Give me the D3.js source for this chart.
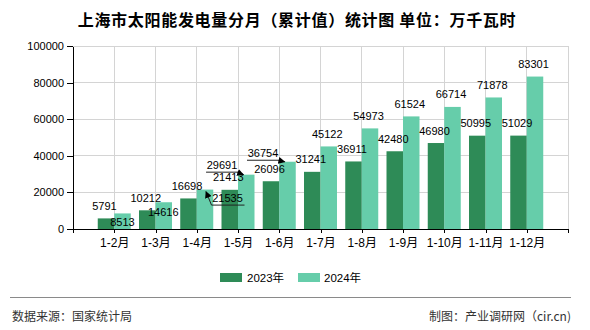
<!DOCTYPE html>
<html><head><meta charset="utf-8">
<script src="https://cdn.jsdelivr.net/npm/d3@7"></script>
<style>
body{margin:0;background:#fff;}
svg{display:block;}
text{font-family:"Liberation Sans","Noto Sans CJK SC",sans-serif;}
</style></head>
<body><svg id="c" width="590" height="330"></svg>
<script>
const categories = ["1-2月","1-3月","1-4月","1-5月","1-6月","1-7月","1-8月","1-9月","1-10月","1-11月","1-12月"];
const seriesNames = ["2023年","2024年"];
const values2023 = [5791,10212,16698,21413,26096,31241,36911,42480,46980,50995,51029];
const values2024 = [8513,14616,21535,29691,36754,45122,54973,61524,66714,71878,83301];
const yTicks = [0,20000,40000,60000,80000,100000];
const colors = ["#2e8b57","#66cdaa"];
// label displacement (collision-avoidance) for some data labels: [series, index, dx, dy, leader]
const labelShifts = [[1,0,1.5,21,null],[1,1,1,22,null],[1,2,24,21,"left"],[1,3,-22.7,3,"right"],[1,4,-23,4,"right"]];

const svg = d3.select("#c");
const L=73, R=568, T=46, B=229;
const x = d3.scalePoint().domain(categories).range([L,R]).padding(1);
const y = d3.scaleLinear().domain([0,100000]).range([B,T]);
const bw = x.step()*0.4;

// title
svg.append("text").attr("x",297).attr("y",26).attr("text-anchor","middle")
  .style("font-family","'Noto Sans CJK SC',sans-serif").style("font-size","16px").style("font-weight","bold")
  .style("letter-spacing","0.7px").attr("fill","#000")
  .text("上海市太阳能发电量分月（累计值）统计图 单位：万千瓦时");

// grid
const g = svg.append("g");
g.selectAll("line.h").data(yTicks.filter(d=>d>0)).join("line")
  .attr("x1",L).attr("x2",R).attr("y1",d=>y(d)).attr("y2",d=>y(d))
  .attr("stroke","#d4d4d4").attr("stroke-width",1).attr("shape-rendering","crispEdges");
g.selectAll("line.v").data(categories.map(c=>x(c)).concat([R])).join("line")
  .attr("x1",d=>d).attr("x2",d=>d).attr("y1",T).attr("y2",B)
  .attr("stroke","#d4d4d4").attr("stroke-width",1).attr("shape-rendering","crispEdges");

// bars
const series = [values2023, values2024];
series.forEach((vals,si)=>{
  svg.append("g").selectAll("rect").data(vals).join("rect")
    .attr("x",(d,i)=>x(categories[i]) + (si===0 ? -bw : 0))
    .attr("width",bw)
    .attr("y",d=>y(d)).attr("height",d=>B-y(d))
    .attr("fill",colors[si]);
});

// axes
const xa = svg.append("g").attr("transform",`translate(0,${B})`)
  .call(d3.axisBottom(x).tickSize(4).tickSizeOuter(4).tickPadding(5));
xa.selectAll("text").style("font-size","12px").attr("fill","#000")
  .style("font-family","'Liberation Sans','Noto Sans CJK SC',sans-serif");
const ya = svg.append("g").attr("transform",`translate(${L},0)`)
  .call(d3.axisLeft(y).tickValues(yTicks).tickFormat(d3.format("d")).tickSize(6).tickSizeOuter(0).tickPadding(3));
ya.selectAll("text").style("font-size","11px").attr("fill","#000");
svg.selectAll(".domain,.tick line").attr("stroke","#000").attr("shape-rendering","crispEdges");

// arrow marker
svg.append("defs").append("marker").attr("id","arr").attr("viewBox","0 0 10 10")
  .attr("refX",9).attr("refY",5).attr("markerWidth",7).attr("markerHeight",7)
  .attr("markerUnits","userSpaceOnUse").attr("orient","auto")
  .append("path").attr("d","M0,0 L10,5 L0,10 z").attr("fill","#000");

// data labels
const lab = svg.append("g");
series.forEach((vals,si)=>{
  vals.forEach((v,i)=>{
    const bx = x(categories[i]) + (si===0 ? -bw/2 : bw/2);
    const by = y(v);
    let cx = bx-1.5, cy = by-12.5;
    const sh = labelShifts.find(s=>s[0]===si && s[1]===i);
    if(sh){ cx += sh[2]; cy += sh[3]; }
    lab.append("text").attr("x",cx).attr("y",cy+4).attr("text-anchor","middle")
      .style("font-size","11px").attr("fill","#000").text(v);
    if(sh && sh[4]){
      const ly = cy+7;
      const x0 = cx-16, x1 = cx+17;
      lab.append("line").attr("x1",x0).attr("x2",x1).attr("y1",ly).attr("y2",ly)
        .attr("stroke","#222").attr("stroke-width",1);
      const barL = x(categories[i]) + (si===0 ? -bw : 0);
      if(sh[4]==="left"){
        lab.append("line").attr("x1",x0).attr("y1",ly).attr("x2",bx+1).attr("y2",by+2)
          .attr("stroke","#222").attr("stroke-width",1).attr("marker-end","url(#arr)");
      } else {
        lab.append("line").attr("x1",x1-2).attr("y1",ly).attr("x2",barL+5.5).attr("y2",by)
          .attr("stroke","#222").attr("stroke-width",1).attr("marker-end","url(#arr)");
      }
    }
  });
});

// legend
const lg = svg.append("g");
[[220,247],[298,324]].forEach((p,si)=>{
  lg.append("rect").attr("x",p[0]).attr("y",273).attr("width",22).attr("height",9).attr("fill",colors[si]);
  lg.append("text").attr("x",p[1]).attr("y",281.5).style("font-size","11.5px").attr("fill","#000").text(seriesNames[si]);
});

// footer
svg.append("line").attr("x1",10).attr("x2",571).attr("y1",297.5).attr("y2",297.5).attr("stroke","#8a8a8a").attr("stroke-width",1);
svg.append("text").attr("x",12).attr("y",320.5).style("font-size","12px").attr("fill","#333")
  .style("font-family","'Noto Sans CJK SC',sans-serif").text("数据来源：国家统计局");
svg.append("text").attr("x",571).attr("y",320.5).attr("text-anchor","end").style("font-size","12px").attr("fill","#333")
  .style("font-family","'Noto Sans CJK SC',sans-serif").text("制图：产业调研网（cir.cn)");
</script></body></html>
